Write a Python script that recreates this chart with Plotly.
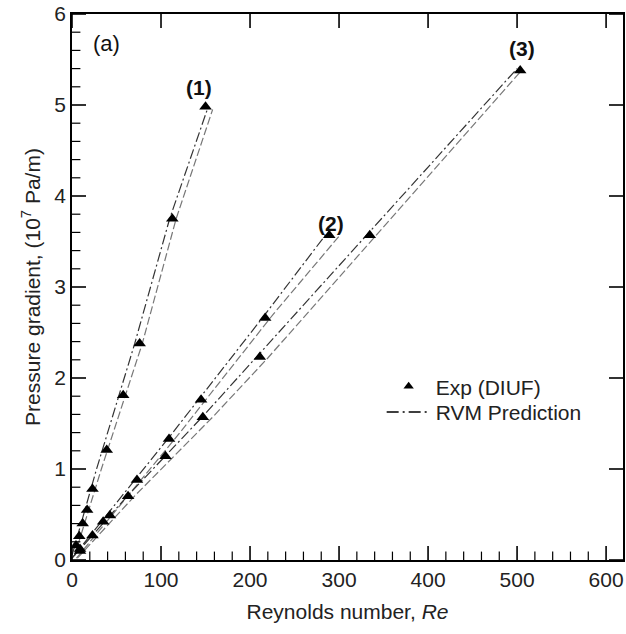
import plotly.graph_objects as go

# Experimental data (DIUF): Reynolds number vs pressure gradient (10^7 Pa/m)
re1 = [4.5, 8.2, 12, 17, 23, 39, 57.5, 76, 112.7, 150]
dp1 = [0.16, 0.26, 0.40, 0.55, 0.78, 1.21, 1.81, 2.38, 3.75, 4.98]

re2 = [9, 23, 35, 73, 109, 145, 217, 289]
dp2 = [0.12, 0.27, 0.42, 0.88, 1.33, 1.76, 2.66, 3.57]

re3 = [9, 42.6, 63, 105, 147, 211, 334.5, 503.5]
dp3 = [0.10, 0.49, 0.70, 1.14, 1.57, 2.23, 3.57, 5.38]

# RVM prediction lines (two per case)
p1a_re = [0, 27.6, 70.5, 109.7, 153]
p1a_dp = [0.05, 1.0, 2.38, 3.75, 4.98]
p1b_re = [3, 33, 79, 117, 158]
p1b_dp = [0.05, 1.0, 2.38, 3.75, 4.95]

p2a_re = [0, 36, 110, 217, 287]
p2a_dp = [0.02, 0.46, 1.36, 2.70, 3.60]
p2b_re = [5, 42, 118, 226, 301]
p2b_dp = [0.02, 0.46, 1.36, 2.70, 3.57]

p3a_re = [0, 62, 149, 211, 334, 500]
p3a_dp = [0.02, 0.70, 1.60, 2.27, 3.60, 5.40]
p3b_re = [6, 70, 158, 220, 340, 505]
p3b_dp = [0.02, 0.70, 1.57, 2.22, 3.55, 5.38]

labels = ["(1)", "(2)", "(3)"]
label_x = [143, 291, 506]
label_y = [5.19, 3.70, 5.62]

x_range = [0, 619]
y_range = [0, 6]
x_major = [0, 100, 200, 300, 400, 500, 600]
x_minor = [v for v in range(20, 619, 20) if v % 100 != 0]
y_major = [0, 1, 2, 3, 4, 5, 6]
y_minor = [round(0.2 * k, 1) for k in range(1, 30) if k % 5 != 0]

FONT = "Liberation Sans, Arial, Helvetica, sans-serif"
FS = 21
fig = go.Figure()

preds = [(p1a_re, p1a_dp, p1b_re, p1b_dp),
         (p2a_re, p2a_dp, p2b_re, p2b_dp),
         (p3a_re, p3a_dp, p3b_re, p3b_dp)]
for ar, ad, br, bd in preds:
    fig.add_trace(go.Scatter(x=ar, y=ad, mode="lines", showlegend=False,
                             line=dict(color="#333333", width=1.2, dash="10px,3px,2px,3px")))
    fig.add_trace(go.Scatter(x=br, y=bd, mode="lines", showlegend=False,
                             line=dict(color="#777777", width=1.2, dash="8px,3px")))

for rx, dy in [(re1, dp1), (re2, dp2), (re3, dp3)]:
    fig.add_trace(go.Scatter(x=rx, y=dy, mode="markers", showlegend=False,
                             marker=dict(symbol="triangle-up", size=11, color="black")))

# inside tick marks (clipped at the plot edge so only the inner half shows)
def tick_trace(xs, ys, symbol, size, width):
    fig.add_trace(go.Scatter(x=xs, y=ys, mode="markers", showlegend=False, hoverinfo="skip",
                             cliponaxis=True,
                             marker=dict(symbol=symbol, size=size, color="black",
                                         line=dict(color="black", width=width))))

tick_trace(x_major, [y_range[0]] * len(x_major), "line-ns", 20, 1.6)
tick_trace(x_major, [y_range[1]] * len(x_major), "line-ns", 20, 1.6)
tick_trace(x_minor, [y_range[0]] * len(x_minor), "line-ns", 12, 1.2)
tick_trace([x_range[0]] * len(y_major), y_major, "line-ew", 20, 1.6)
tick_trace([x_range[1]] * len(y_major), y_major, "line-ew", 20, 1.6)
tick_trace([x_range[0]] * len(y_minor), y_minor, "line-ew", 12, 1.2)

# legend entries (two separate legends so their spacing matches)
fig.add_trace(go.Scatter(x=[0], y=[-10], mode="markers", name="Exp (DIUF)", legend="legend",
                         marker=dict(symbol="triangle-up", size=9, color="black")))
fig.add_trace(go.Scatter(x=[0, 1], y=[-10, -10], mode="lines", name="RVM Prediction",
                         legend="legend2",
                         line=dict(color="black", width=1.5, dash="12px,4px,2px,4px")))

for t, x, y in zip(labels, label_x, label_y):
    fig.add_annotation(x=x, y=y, text="<b>%s</b>" % t, showarrow=False,
                       font=dict(size=FS, color="#111", family=FONT))
fig.add_annotation(x=38.8, y=5.68, text="(a)", showarrow=False,
                   font=dict(size=FS + 1, color="#111", family=FONT))

tickfont = dict(size=FS, color="#222", family=FONT)
axis_common = dict(showline=True, linecolor="black", linewidth=1.8, mirror=True,
                   ticks="", showgrid=False, zeroline=False, tickfont=tickfont)
legend_common = dict(xanchor="left", yanchor="top", bgcolor="rgba(0,0,0,0)",
                     font=dict(size=FS, color="#222", family=FONT), itemwidth=44)

fig.update_layout(
    width=626, height=634,
    margin=dict(l=72, r=1, t=14, b=74),
    plot_bgcolor="white", paper_bgcolor="white",
    font=dict(family=FONT, size=FS, color="#222"),
    xaxis=dict(range=x_range, dtick=100,
               title=dict(text="Reynolds number, <i>Re</i>", standoff=14,
                          font=dict(size=FS, color="#222", family=FONT)),
               **axis_common),
    yaxis=dict(range=y_range, dtick=1,
               title=dict(text="Pressure gradient, (10<sup>7</sup> Pa/m)", standoff=8,
                          font=dict(size=FS, color="#222", family=FONT)),
               **axis_common),
    legend=dict(x=0.562, y=0.355, **legend_common),
    legend2=dict(x=0.562, y=0.308, **legend_common),
)

fig.write_html("out.html")
